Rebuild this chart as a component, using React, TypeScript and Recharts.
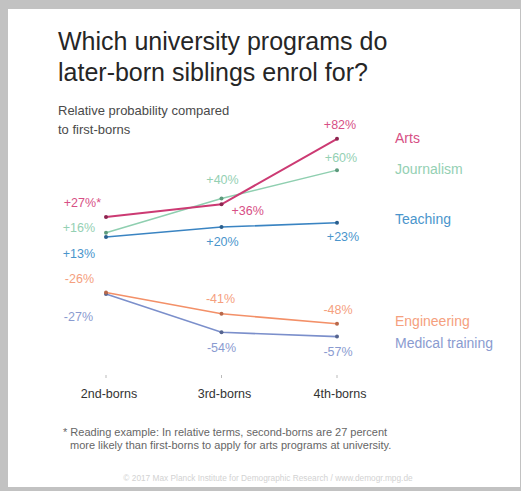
import { LineChart, Line, XAxis, YAxis, LabelList } from "recharts";

const categories = ["2nd-borns", "3rd-borns", "4th-borns"];

const arts = [27, 36, 82];
const journalism = [16, 40, 60];
const teaching = [13, 20, 23];
const engineering = [-26, -41, -48];
const medical = [-27, -54, -57];

const seriesNames = ["Arts", "Journalism", "Teaching", "Engineering", "Medical training"];

const FONT = '"Liberation Sans", Arial, Helvetica, sans-serif';

type Offset = [number, number, "start" | "middle" | "end"];

// label placement per series (dx, dy, anchor) around each point, plus series name offset
const seriesStyle: {
  key: string;
  line: string;
  dot: string;
  text: string;
  offsets: Offset[];
  nameDy: number;
  width: number;
}[] = [
  {
    key: "teaching",
    line: "#3a84c2",
    dot: "#2a5f8e",
    text: "#4a95cc",
    offsets: [[-11, 17, "end"], [1, 15, "middle"], [6, 14, "middle"]],
    nameDy: -4,
    width: 1.6,
  },
  {
    key: "journalism",
    line: "#8fcfb0",
    dot: "#5d9a7c",
    text: "#94d0b3",
    offsets: [[-11, -5, "end"], [1, -19, "middle"], [4, -12, "middle"]],
    nameDy: -1,
    width: 1.5,
  },
  {
    key: "arts",
    line: "#cc3a73",
    dot: "#8e2550",
    text: "#d74f85",
    offsets: [[-5, -14, "end"], [10, 7, "start"], [3, -14, "middle"]],
    nameDy: -1,
    width: 2,
  },
  {
    key: "medical",
    line: "#7b8fcb",
    dot: "#55648f",
    text: "#8a9bd0",
    offsets: [[-13, 23, "end"], [0, 16, "middle"], [1, 15, "middle"]],
    nameDy: 6,
    width: 1.6,
  },
  {
    key: "engineering",
    line: "#f39068",
    dot: "#b8684a",
    text: "#f5a07e",
    offsets: [[-12, -13, "end"], [-1, -15, "middle"], [1, -14, "middle"]],
    nameDy: -3,
    width: 1.6,
  },
];

const nameIndex: Record<string, number> = {
  arts: 0,
  journalism: 1,
  teaching: 2,
  engineering: 3,
  medical: 4,
};

const data = categories.map((c, i) => ({
  cat: c,
  arts: arts[i],
  journalism: journalism[i],
  teaching: teaching[i],
  engineering: engineering[i],
  medical: medical[i],
}));

function fmt(v: number) {
  return `${v > 0 ? "+" : ""}${v}%`;
}

function makeLabel(s: (typeof seriesStyle)[number]) {
  return (props: any) => {
    const { x, y, value, index } = props;
    const [dx, dy, anchor] = s.offsets[index];
    const star = s.key === "arts" && index === 0 ? "*" : "";
    return (
      <g>
        <text
          x={x + dx}
          y={y + dy}
          textAnchor={anchor}
          dominantBaseline="central"
          fontSize={12.5}
          fontFamily={FONT}
          fill={s.text}
        >
          {fmt(value) + star}
        </text>
        {index === categories.length - 1 && (
          <text
            x={395}
            y={y + s.nameDy}
            textAnchor="start"
            dominantBaseline="central"
            fontSize={14}
            fontFamily={FONT}
            fill={s.text}
          >
            {seriesNames[nameIndex[s.key]]}
          </text>
        )}
      </g>
    );
  };
}

function makeDot(color: string) {
  return (props: any) => {
    const { cx, cy, index } = props;
    return <circle key={index} cx={cx} cy={cy} r={2} fill={color} />;
  };
}

export default function App() {
  return (
    <div
      style={{
        position: "relative",
        width: 521,
        height: 491,
        background: "#c2c2c2",
        fontFamily: FONT,
        overflow: "hidden",
      }}
    >
      <style>{"body{margin:0}"}</style>
      <div
        style={{
          position: "absolute",
          left: 8,
          top: 9,
          width: 512,
          height: 478,
          background: "#ffffff",
        }}
      />
      <div
        style={{
          position: "absolute",
          left: 58,
          top: 26,
          fontSize: 25,
          lineHeight: "31px",
          color: "#262626",
          whiteSpace: "nowrap",
        }}
      >
        Which university programs do
        <br />
        later-born siblings enrol for?
      </div>
      <div
        style={{
          position: "absolute",
          left: 58,
          top: 101,
          fontSize: 13,
          lineHeight: "19px",
          color: "#4a4a4a",
          whiteSpace: "nowrap",
        }}
      >
        Relative probability compared
        <br />
        to first-borns
      </div>

      <div style={{ position: "absolute", left: 0, top: 0 }}>
        <LineChart
          width={521}
          height={491}
          data={data}
          margin={{ top: 136, right: 184, bottom: 86, left: 106 }}
        >
          <XAxis
            dataKey="cat"
            axisLine={false}
            tickSize={3}
            tickMargin={11}
            tickLine={{ stroke: "#bbbbbb" }}
            tick={{ fontSize: 12.5, fill: "#333", fontFamily: FONT, dx: 3 }}
            interval={0}
            height={30}
          />
          <YAxis hide width={0} domain={[-84, 84]} />
          {seriesStyle.map((s) => (
            <Line
              key={s.key}
              dataKey={s.key}
              type="linear"
              stroke={s.line}
              strokeWidth={s.width}
              dot={makeDot(s.dot)}
              activeDot={false}
              isAnimationActive={false}
            >
              <LabelList dataKey={s.key} content={makeLabel(s)} />
            </Line>
          ))}
        </LineChart>
      </div>

      <div
        style={{
          position: "absolute",
          left: 63,
          top: 426,
          fontSize: 11,
          lineHeight: "13px",
          color: "#666",
          whiteSpace: "nowrap",
        }}
      >
        * Reading example: In relative terms, second-borns are 27 percent
        <br />
        <span style={{ paddingLeft: 7 }}>
          more likely than first-borns to apply for arts programs at university.
        </span>
      </div>
      <div
        style={{
          position: "absolute",
          left: 0,
          width: 536,
          top: 473,
          textAlign: "center",
          fontSize: 8.3,
          lineHeight: "10px",
          color: "#d2d2d2",
          whiteSpace: "nowrap",
        }}
      >
        © 2017 Max Planck Institute for Demographic Research / www.demogr.mpg.de
      </div>
    </div>
  );
}
